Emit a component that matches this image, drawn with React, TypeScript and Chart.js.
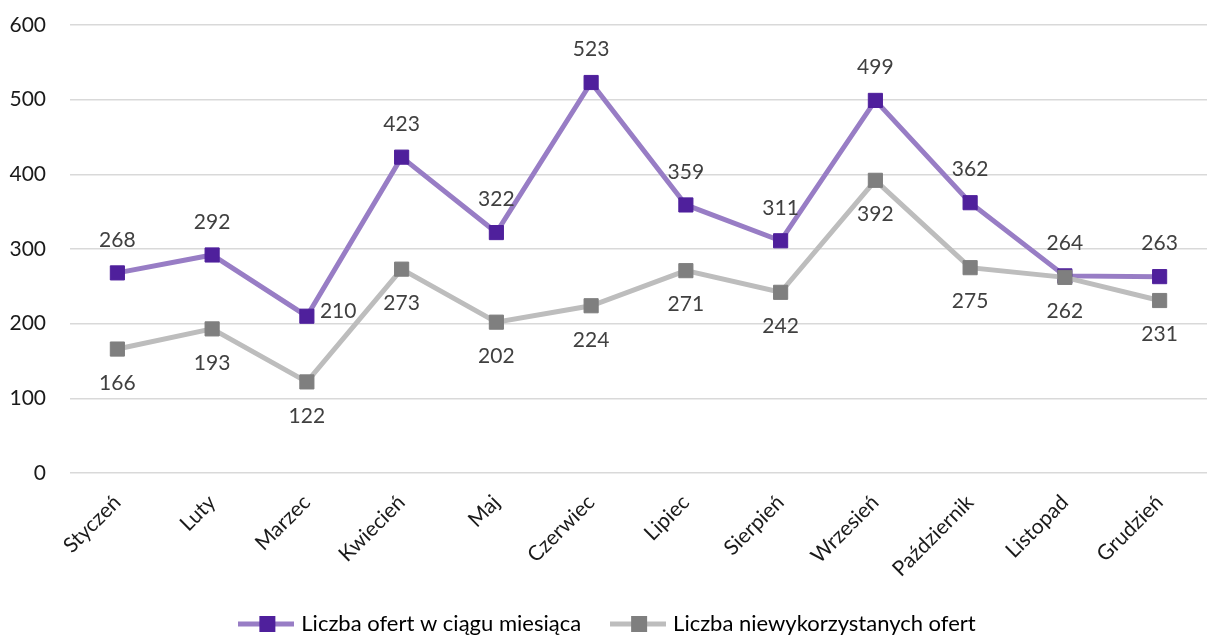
import React, { useEffect, useRef } from "react";
import { Chart, registerables } from "chart.js";

Chart.register(...registerables);

const months = [
  "Styczeń", "Luty", "Marzec", "Kwiecień", "Maj", "Czerwiec",
  "Lipiec", "Sierpień", "Wrzesień", "Październik", "Listopad", "Grudzień",
];
const totalOffers = [268, 292, 210, 423, 322, 523, 359, 311, 499, 362, 264, 263];
const unusedOffers = [166, 193, 122, 273, 202, 224, 271, 242, 392, 275, 262, 231];
const seriesNames = ["Liczba ofert w ciągu miesiąca", "Liczba niewykorzystanych ofert"];
const totalLabelPos = ["top", "top", "right", "top", "top", "top", "top", "top", "top", "top", "top", "top"];
const unusedLabelPos = ["bottom", "bottom", "bottom", "bottom", "bottom", "bottom", "bottom", "bottom", "bottom", "bottom", "bottom", "bottom"];

const FONT = "Lato";
const PURPLE_LINE = "#987dc5";
const PURPLE_MARK = "#4f209c";
const GRAY_LINE = "#bdbdbd";
const GRAY_MARK = "#7f7f7f";

function legendIcon(lineColor: string, markColor: string) {
  const c = document.createElement("canvas");
  c.width = 56;
  c.height = 16;
  const ctx = c.getContext("2d")!;
  ctx.fillStyle = lineColor;
  ctx.fillRect(0, 5.5, 56, 5);
  ctx.fillStyle = markColor;
  ctx.fillRect(21, 0, 16, 16);
  return c;
}

const dataLabelPlugin = {
  id: "dataLabels",
  afterDatasetsDraw(chart: any) {
    const ctx = chart.ctx;
    ctx.save();
    ctx.font = `21px ${FONT}`;
    ctx.fillStyle = "#404040";
    chart.data.datasets.forEach((ds: any, di: number) => {
      const meta = chart.getDatasetMeta(di);
      const positions: string[] = ds.labelPositions || [];
      meta.data.forEach((pt: any, i: number) => {
        const v = ds.data[i];
        const pos = positions[i] || "top";
        let x = pt.x;
        let y = pt.y;
        if (pos === "top") {
          ctx.textAlign = "center";
          ctx.textBaseline = "middle";
          y -= 33;
        } else if (pos === "bottom") {
          ctx.textAlign = "center";
          ctx.textBaseline = "middle";
          y += 34;
        } else {
          ctx.textAlign = "left";
          ctx.textBaseline = "middle";
          x += 13;
          y -= 5;
        }
        ctx.fillText(String(v), x, y);
      });
    });
    ctx.restore();
  },
};

export default function App() {
  const ref = useRef<HTMLCanvasElement>(null);
  useEffect(() => {
    document.body.style.margin = "0";
    const icons = [legendIcon(PURPLE_LINE, PURPLE_MARK), legendIcon(GRAY_LINE, GRAY_MARK)];
    const chart = new Chart(ref.current!, {
      type: "line",
      data: {
        labels: months,
        datasets: [
          {
            label: seriesNames[0],
            data: totalOffers,
            borderColor: PURPLE_LINE,
            backgroundColor: PURPLE_MARK,
            pointBackgroundColor: PURPLE_MARK,
            pointBorderColor: PURPLE_MARK,
            pointStyle: "rect",
            pointRadius: 10,
            pointBorderWidth: 1,
            borderWidth: 5,
            tension: 0,
            order: 1,
            labelPositions: totalLabelPos,
          } as any,
          {
            label: seriesNames[1],
            data: unusedOffers,
            borderColor: GRAY_LINE,
            backgroundColor: GRAY_MARK,
            pointBackgroundColor: GRAY_MARK,
            pointBorderColor: GRAY_MARK,
            pointStyle: "rect",
            pointRadius: 10,
            pointBorderWidth: 1,
            borderWidth: 5,
            tension: 0,
            order: 0,
            labelPositions: unusedLabelPos,
          } as any,
        ],
      },
      options: {
        responsive: false,
        animation: false,
        layout: { padding: { top: 25, left: 0, right: 0, bottom: -8 } },
        scales: {
          x: {
            offset: true,
            grid: { display: false, drawTicks: false },
            border: { display: false },
            ticks: {
              autoSkip: false,
              minRotation: 45,
              maxRotation: 45,
              padding: 17,
              color: "#1a1a1a",
              font: { family: FONT, size: 21 },
            },
            afterFit: (axis: any) => {
              axis.height = 107;
            },
          },
          y: {
            min: 0,
            max: 600,
            ticks: {
              stepSize: 100,
              padding: 24,
              color: "#1a1a1a",
              font: { family: FONT, size: 21 },
            },
            grid: { color: "#d9d9d9", lineWidth: 1.5, drawTicks: false },
            border: { display: false },
            afterFit: (axis: any) => {
              axis.width = 70;
              axis.paddingTop = 12;
              axis.paddingBottom = 12;
            },
          },
        },
        plugins: {
          tooltip: { enabled: false },
          legend: {
            position: "bottom",
            labels: {
              usePointStyle: true,
              pointStyleWidth: 48,
              padding: 33,
              color: "#000",
              font: { family: FONT, size: 22 },
              sort: (a: any, b: any) => a.datasetIndex - b.datasetIndex,
              generateLabels: (ch: any) => {
                const items = Chart.defaults.plugins.legend.labels.generateLabels(ch);
                items.forEach((it: any) => {
                  it.pointStyle = icons[it.datasetIndex];
                });
                return items;
              },
            },
          },
        },
      } as any,
      plugins: [dataLabelPlugin],
    });
    return () => chart.destroy();
  }, []);
  return (
    <div style={{ position: "absolute", left: 0, top: 0, width: 1208, height: 637, overflow: "hidden" }}>
      <canvas ref={ref} width={1218} height={637} />
    </div>
  );
}
